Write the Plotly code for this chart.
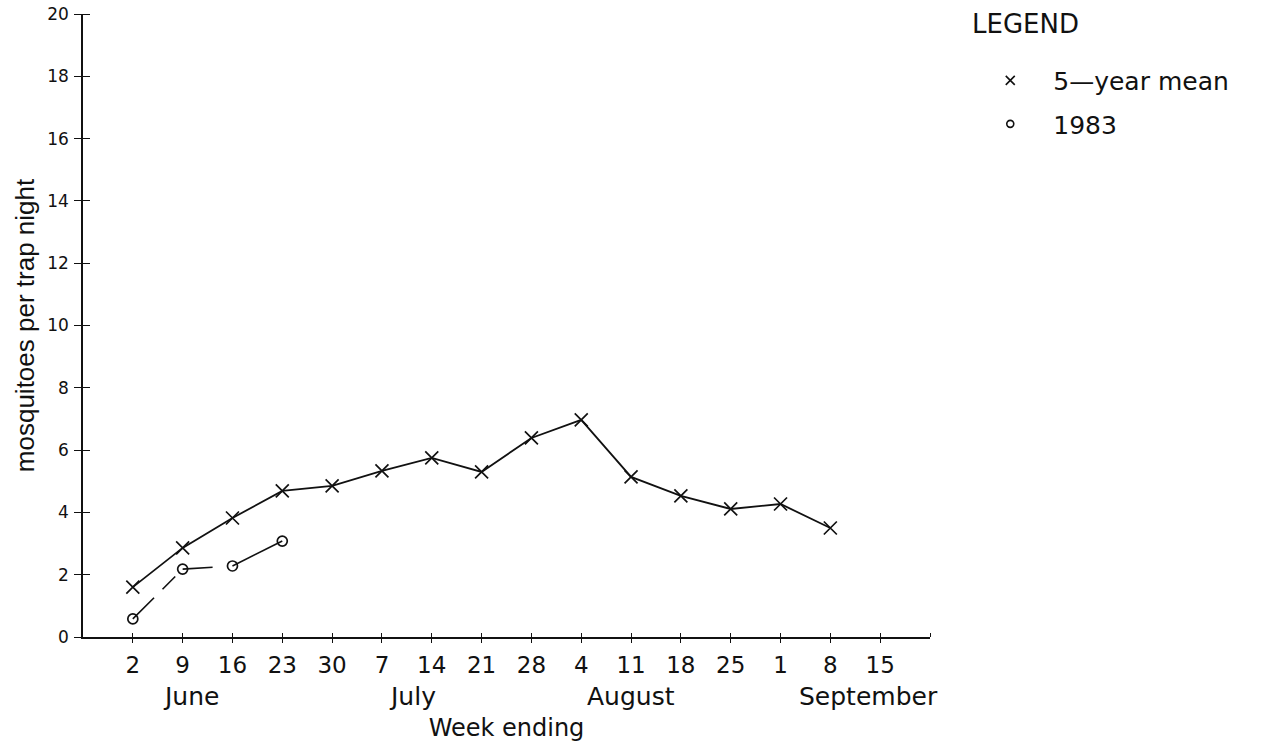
import plotly.graph_objects as go

# ---------------- data ----------------
week_labels = ["2", "9", "16", "23", "30", "7", "14", "21", "28",
               "4", "11", "18", "25", "1", "8", "15"]
month_names = ["June", "July", "August", "September"]
mean_5yr = [1.60, 2.86, 3.82, 4.69, 4.85, 5.33, 5.75, 5.30, 6.39,
            6.97, 5.14, 4.53, 4.11, 4.27, 3.50]
y_1983 = [0.58, 2.18, 2.28, 3.08]
y_ticks = [0, 2, 4, 6, 8, 10, 12, 14, 16, 18, 20]

# ---------------- layout constants ----------------
month_pos = [1.16, 5.62, 10.0, 14.76]        # label centres, in week-index units
INK = "#111111"
WIDE = "DejaVu Sans"
x_idx_mean = list(range(len(mean_5yr)))
x_idx_1983 = list(range(len(y_1983)))
x_tickvals = list(range(len(week_labels))) + [len(week_labels)]
x_ticktext = week_labels + [""]

fig = go.Figure()

# 5-year mean
fig.add_trace(go.Scatter(
    x=x_idx_mean, y=mean_5yr, mode="lines+markers", showlegend=False,
    line=dict(color=INK, width=1.8),
    marker=dict(symbol="x-thin-open", size=13, color=INK,
                line=dict(color=INK, width=1.7)),
    hovertemplate="%{y}<extra>5-year mean</extra>"))

# 1983 - drawn segment by segment (plotter-style broken strokes)
dash_styles = ["30px,12px,18px,40px", "30px,40px", "solid"]
for i, dsh in enumerate(dash_styles):
    fig.add_trace(go.Scatter(
        x=x_idx_1983[i:i + 2], y=y_1983[i:i + 2], mode="lines",
        showlegend=False, hoverinfo="skip",
        line=dict(color=INK, width=1.6, dash=dsh)))
fig.add_trace(go.Scatter(
    x=x_idx_1983, y=y_1983, mode="markers", showlegend=False,
    marker=dict(symbol="circle-open", size=10, color=INK,
                line=dict(color=INK, width=1.7)),
    hovertemplate="%{y}<extra>1983</extra>"))

# legend entries
fig.add_trace(go.Scatter(
    x=[None], y=[None], mode="markers", name="5\u2014year mean",
    legendgroup="a",
    marker=dict(symbol="x-thin-open", size=9, color=INK,
                line=dict(color=INK, width=1.6))))
fig.add_trace(go.Scatter(
    x=[None], y=[None], mode="markers", name="1983",
    legendgroup="b",
    marker=dict(symbol="circle-open", size=7, color=INK,
                line=dict(color=INK, width=1.6))))

annotations = [dict(x=p, y=0, xref="x", yref="paper", text=m, showarrow=False,
                    yanchor="middle", xanchor="center", yshift=-59,
                    font=dict(family=WIDE, size=25, color=INK))
               for p, m in zip(month_pos, month_names)]
annotations.append(dict(x=1.0472, y=1.0, xref="paper", yref="paper",
                        text="LEGEND", showarrow=False, xanchor="left",
                        yanchor="middle", yshift=-10,
                        font=dict(family=WIDE, size=26, color=INK)))

fig.update_layout(
    width=1265, height=748,
    margin=dict(l=83, r=335, t=14, b=111),
    plot_bgcolor="white", paper_bgcolor="white",
    annotations=annotations,
    legend=dict(x=1.044, y=0.93, xanchor="left", yanchor="top",
                traceorder="grouped", tracegroupgap=8, itemwidth=76,
                font=dict(family=WIDE, size=25, color=INK),
                bgcolor="rgba(0,0,0,0)"),
    xaxis=dict(range=[-1, 16], tickmode="array", tickvals=x_tickvals,
               ticktext=x_ticktext, ticks="outside", ticklen=4,
               tickwidth=1.3, tickcolor=INK, showline=True, linecolor=INK,
               linewidth=1.5, showgrid=False, zeroline=False,
               minor=dict(ticks="inside", tickmode="array",
                          tickvals=x_tickvals, ticklen=4, tickwidth=1.3,
                          tickcolor=INK, showgrid=False),
               automargin=False, ticklabelstandoff=3,
               tickfont=dict(family=WIDE, size=23, color=INK),
               title=dict(text="Week ending", standoff=42,
                          font=dict(family=WIDE, size=24, color=INK))),
    yaxis=dict(range=[0, 20], tickmode="array", tickvals=y_ticks,
               ticks="outside", ticklen=7, tickwidth=1.3, tickcolor=INK,
               showline=True, linecolor=INK, linewidth=1.5,
               showgrid=False, zeroline=False, automargin=False,
               minor=dict(ticks="inside", tickmode="array",
                          tickvals=y_ticks, ticklen=7, tickwidth=1.3,
                          tickcolor=INK, showgrid=False),
               ticklabelstandoff=2, ticklabeloverflow="allow",
               tickfont=dict(family=WIDE, size=17, color=INK),
               title=dict(text="mosquitoes per trap night", standoff=5,
                          font=dict(family="Liberation Sans", size=26,
                                    color=INK))),
)

# remove the browser's default 8px body margin so the figure fills the window
fig.write_html("out.html",
               config={"displayModeBar": False},
               post_script="document.body.style.margin='0';")
